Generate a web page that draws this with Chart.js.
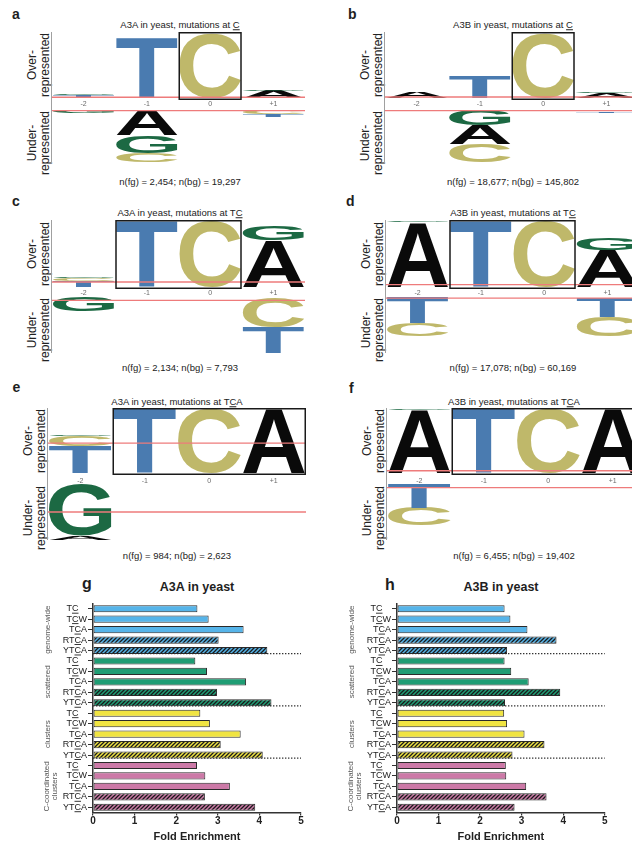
<!DOCTYPE html>
<html lang="en">
<head>
<meta charset="utf-8">
<title>APOBEC3A and APOBEC3B mutation context in yeast</title>
<script src="https://cdn.jsdelivr.net/npm/chart.js@4.4.1/dist/chart.umd.min.js"></script>
<style>
  html, body { margin: 0; padding: 0; background: #fff; }
  body { width: 632px; height: 846px; position: relative; overflow: hidden;
         font-family: "Liberation Sans", Arial, Helvetica, sans-serif; color: #1e1e1e; }
  canvas { position: absolute; }
  .txt { position: absolute; white-space: nowrap; line-height: 1; }
  .mid { transform: translate(-50%, -50%); }
  .tag { font-weight: bold; transform: translate(0, -50%); }
  .rot { position: absolute; transform: translate(-50%, -50%) rotate(-90deg); text-align: center;
         font-size: 12px; line-height: 13px; white-space: nowrap; color: #222; }
  u { text-decoration-thickness: 1px; text-underline-offset: 1px; }
</style>
</head>
<body>
<script>
const FONT = '"Liberation Sans", Arial, Helvetica, sans-serif';

// ---------- sequence logos ----------
const POSITIONS = ['-2', '-1', '0', '+1'];
const BASE_COLORS = { A: '#0a0a0a', C: '#bfb86a', G: '#1c6943', T: '#4a7bb0' };

// Each position lists [base, height] from the baseline outward; heights are a fraction of the panel height.
const a_over  = [[['T', 0.045], ['G', 0.015]], [['T', 0.91]], [['C', 0.985]], [['A', 0.11], ['G', 0.02]]];
const a_under = [[['G', 0.065]], [['A', 0.48], ['G', 0.33], ['C', 0.17]], [], [['C', 0.075], ['T', 0.055]]];
const b_over  = [[['A', 0.09]], [['T', 0.34]], [['C', 0.985]], [['A', 0.075], ['G', 0.02]]];
const b_under = [[['C', 0.02]], [['G', 0.29], ['A', 0.355], ['C', 0.34]], [], [['C', 0.025], ['T', 0.03]]];
const c_over  = [[['T', 0.09], ['C', 0.045], ['G', 0.015]], [['T', 0.985]], [['C', 0.985]], [['A', 0.70], ['G', 0.21]]];
const c_under = [[['G', 0.245]], [], [], [['C', 0.545], ['T', 0.455]]];
const d_over  = [[['A', 0.965], ['G', 0.02]], [['T', 0.985]], [['C', 0.985]], [['A', 0.55], ['G', 0.165]]];
const d_under = [[['T', 0.46], ['C', 0.235]], [], [], [['T', 0.355], ['C', 0.35]]];
const e_over  = [[['T', 0.415], ['C', 0.155], ['G', 0.015]], [['T', 0.985]], [['C', 0.985]], [['A', 0.985]]];
const e_under = [[['G', 0.925], ['A', 0.075]], [], [], []];
const f_over  = [[['A', 0.965], ['G', 0.02]], [['T', 0.985]], [['C', 0.985]], [['A', 0.985]]];
const f_under = [[['T', 0.425], ['C', 0.32]], [], [], []];

// Significance cut-offs drawn in red: [over-represented, under-represented]
const a_cut = [0.011, 0.011];
const b_cut = [0.015, 0.01];
const c_cut = [0.075, 0.06];
const d_cut = [0.035, 0.02];
const e_cut = [0.46, 0.5];
const f_cut = [0.035, 0.064];

// ---------- fold enrichment bars ----------
const MOTIFS = ['TC', 'TCW', 'TCA', 'RTCA', 'YTCA'];
const GROUPS = ['genome-wide', 'scattered', 'clusters', 'C-coordinated\nclusters'];
const GROUP_COLORS = ['#56b4e9', '#1f9d74', '#f0e442', '#cc79a7'];
const X_TICKS = [0, 1, 2, 3, 4, 5];

const a3a_genome    = [2.51, 2.78, 3.62, 3.02, 4.19];
const a3a_scattered = [2.46, 2.74, 3.68, 2.98, 4.29];
const a3a_clusters  = [2.58, 2.81, 3.55, 3.07, 4.08];
const a3a_coord     = [2.50, 2.70, 3.29, 2.69, 3.90];
const a3b_genome    = [2.59, 2.73, 3.14, 3.84, 2.65];
const a3b_scattered = [2.59, 2.75, 3.17, 3.93, 2.60];
const a3b_clusters  = [2.58, 2.65, 3.07, 3.55, 2.78];
const a3b_coord     = [2.62, 2.63, 3.11, 3.60, 2.83];

// ---------- layout ----------
const PAD = 3;
const ROWS = [
  { overTop: 32,  base: 98,  underTop: 110, underBottom: 175, titleY: 25,  footY: 182, tickPad: 2 },
  { overTop: 220, base: 287, underTop: 297, underBottom: 363, titleY: 213, footY: 368, tickPad: 2 },
  { overTop: 408, base: 473, underTop: 484, underBottom: 551, titleY: 402, footY: 556, tickPad: 4 }
];
const LOGOS = [
  { tag: 'a', tagX: 12,  tagY: 13.5, left: 52,  colW: 63.25, row: 0, over: a_over, under: a_under, cut: a_cut, box: [2, 2], cx: 180,
    title: 'A3A in yeast, mutations at <u>C</u>', foot: 'n(fg) = 2,454; n(bg) = 19,297' },
  { tag: 'b', tagX: 348, tagY: 13.5, left: 385, colW: 63.25, row: 0, over: b_over, under: b_under, cut: b_cut, box: [2, 2], cx: 513,
    title: 'A3B in yeast, mutations at <u>C</u>', foot: 'n(fg) = 18,677; n(bg) = 145,802' },
  { tag: 'c', tagX: 12,  tagY: 200.5, left: 52, colW: 63.25, row: 1, over: c_over, under: c_under, cut: c_cut, box: [1, 2], cx: 180,
    title: 'A3A in yeast, mutations at T<u>C</u>', foot: 'n(fg) = 2,134; n(bg) = 7,793' },
  { tag: 'd', tagX: 346, tagY: 201, left: 386, colW: 63.25, row: 1, over: d_over, under: d_under, cut: d_cut, box: [1, 2], cx: 513,
    title: 'A3B in yeast, mutations at T<u>C</u>', foot: 'n(fg) = 17,078; n(bg) = 60,169' },
  { tag: 'e', tagX: 12.5, tagY: 387, left: 48, colW: 64.5, row: 2, over: e_over, under: e_under, cut: e_cut, box: [1, 3], cx: 177,
    title: 'A3A in yeast, mutations at T<u>C</u>A', foot: 'n(fg) = 984; n(bg) = 2,623' },
  { tag: 'f', tagX: 349, tagY: 388, left: 387, colW: 64.5, row: 2, over: f_over, under: f_under, cut: f_cut, box: [1, 3], cx: 514,
    title: 'A3B in yeast, mutations at T<u>C</u>A', foot: 'n(fg) = 6,455; n(bg) = 19,402' }
];

function addText(html, x, y, cls, size, extra) {
  const d = document.createElement('div');
  d.className = 'txt ' + cls;
  d.innerHTML = html;
  d.style.left = x + 'px';
  d.style.top = y + 'px';
  d.style.fontSize = size + 'px';
  if (extra) Object.assign(d.style, extra);
  document.body.appendChild(d);
  return d;
}
function addRotated(l1, l2, x, y) {
  const d = document.createElement('div');
  d.className = 'rot';
  d.innerHTML = l1 + '<br>' + l2;
  d.style.left = x + 'px';
  d.style.top = y + 'px';
  document.body.appendChild(d);
}
function addCanvas(x, y, w, h) {
  const c = document.createElement('canvas');
  c.width = w; c.height = h;
  c.style.left = x + 'px'; c.style.top = y + 'px';
  document.body.appendChild(c);
  return c;
}

// Letter glyph stretched to fill a bar rectangle
function drawGlyph(ctx, ch, color, x, y, w, h) {
  if (h < 0.4 || w <= 0) return;
  ctx.save();
  ctx.font = `bold 200px ${FONT}`;
  ctx.textAlign = 'left';
  ctx.textBaseline = 'alphabetic';
  const m = ctx.measureText(ch);
  const gw = m.actualBoundingBoxLeft + m.actualBoundingBoxRight;
  const gh = m.actualBoundingBoxAscent + m.actualBoundingBoxDescent;
  ctx.translate(x, y);
  ctx.scale(w / gw, h / gh);
  ctx.fillStyle = color;
  ctx.fillText(ch, m.actualBoundingBoxLeft, m.actualBoundingBoxAscent);
  ctx.restore();
}

const logoPlugin = {
  id: 'logo',
  afterDatasetsDraw(chart, args, opts) {
    const { ctx, chartArea: ca } = chart;
    ctx.save();
    ctx.beginPath();
    ctx.rect(ca.left, ca.top, ca.right - ca.left, ca.bottom - ca.top);
    ctx.clip();
    chart.data.datasets.forEach((ds, di) => {
      chart.getDatasetMeta(di).data.forEach((bar, i) => {
        if (!ds.data[i]) return;
        const { x, y, base, width } = bar.getProps(['x', 'y', 'base', 'width'], true);
        drawGlyph(ctx, ds.label, BASE_COLORS[ds.label], x - width / 2, Math.min(y, base), width, Math.abs(base - y));
      });
    });
    ctx.restore();

    const ys = chart.scales.y, xs = chart.scales.x;
    ctx.save();
    const ty = ys.getPixelForValue(opts.cut);
    ctx.strokeStyle = '#ee7b7b';
    ctx.lineWidth = 1.3;
    ctx.beginPath(); ctx.moveTo(ca.left, ty); ctx.lineTo(ca.right, ty); ctx.stroke();

    if (opts.box) {
      const half = (xs.getPixelForTick(1) - xs.getPixelForTick(0)) / 2;
      const x0 = xs.getPixelForTick(opts.box[0]) - half;
      const x1 = xs.getPixelForTick(opts.box[1]) + half;
      ctx.strokeStyle = '#1a1a1a';
      ctx.lineWidth = 1.5;
      ctx.strokeRect(x0 + 0.75, ca.top + 0.75, x1 - x0 - 1.5, ca.bottom - ca.top + 0.5);
    }
    ctx.strokeStyle = '#a0a0a0';
    ctx.lineWidth = 1;
    const ax = ca.left - 0.5;
    ctx.beginPath();
    ctx.moveTo(ax, opts.over ? ca.top : 0);
    ctx.lineTo(ax, opts.over ? chart.height : ca.bottom);
    ctx.stroke();
    ctx.restore();
  }
};

function stackFor(cols, letter) {
  return cols.map(stack => {
    let acc = 0, out = null;
    stack.forEach(([l, h]) => { if (l === letter) out = [acc, acc + h]; acc += h; });
    return out;
  });
}

function logoChart(p, isOver) {
  const R = ROWS[p.row];
  const top = isOver ? R.overTop : R.underTop;
  const h = isOver ? R.underTop - R.overTop : R.underBottom - R.underTop;
  const cols = isOver ? p.over : p.under;
  const canvas = addCanvas(p.left - PAD, top, Math.round(PAD + 4 * p.colW), h);
  return new Chart(canvas, {
    type: 'bar',
    data: {
      labels: POSITIONS,
      datasets: ['A', 'C', 'G', 'T'].map(L => ({
        label: L, data: stackFor(cols, L),
        backgroundColor: 'rgba(0,0,0,0)', borderWidth: 0,
        grouped: false, barPercentage: 0.97, categoryPercentage: 1
      }))
    },
    options: {
      responsive: false, animation: false, events: [], devicePixelRatio: 1,
      layout: { padding: { left: PAD, right: 0, top: 0, bottom: 0 } },
      plugins: {
        legend: { display: false }, tooltip: { enabled: false },
        logo: { over: isOver, cut: p.cut[isOver ? 0 : 1], box: isOver ? p.box : null }
      },
      scales: {
        x: {
          display: isOver,
          grid: { display: false, drawTicks: false }, border: { display: false },
          ticks: { color: '#6a6a6a', font: { family: FONT, size: 7 }, padding: R.tickPad, maxRotation: 0 },
          afterFit: s => { s.height = R.underTop - R.base; }
        },
        y: { display: false, min: 0, max: 1, reverse: !isOver }
      }
    },
    plugins: [logoPlugin]
  });
}

LOGOS.forEach(p => {
  const R = ROWS[p.row];
  addText(p.tag, p.tagX, p.tagY, 'tag', 14);
  addText(p.title, p.cx, R.titleY, 'mid', 9.5, { color: '#222' });
  addText(p.foot, p.cx, R.footY, 'mid', 9.5, { color: '#222' });
  addRotated('Over-', 'represented', p.left - 13.5, (R.overTop + R.base) / 2);
  addRotated('Under-', 'represented', p.left - 13.5, (R.underTop + R.underBottom) / 2);
  logoChart(p, true);
  logoChart(p, false);
});

// ---------- bar charts ----------
function hatch(color) {
  const c = document.createElement('canvas');
  c.width = 4; c.height = 4;
  const x = c.getContext('2d');
  x.fillStyle = color;
  x.fillRect(0, 0, 4, 4);
  x.strokeStyle = '#1a1a1a';
  x.lineWidth = 1.3;
  x.beginPath();
  x.moveTo(-1, 5); x.lineTo(5, -1);
  x.moveTo(-1, 1); x.lineTo(1, -1);
  x.moveTo(3, 5); x.lineTo(5, 3);
  x.stroke();
  return x.createPattern(c, 'repeat');
}

const motifPlugin = {
  id: 'motifs',
  beforeDatasetsDraw(chart) {
    const { ctx, chartArea: ca } = chart;
    const bars = chart.getDatasetMeta(0).data;
    ctx.save();
    ctx.strokeStyle = '#333';
    ctx.lineWidth = 1.3;
    ctx.setLineDash([1.4, 1.6]);
    for (let g = 1; g < GROUPS.length; g++) {
      const bar = bars[g * MOTIFS.length - 1];
      const y = bar.y + bar.height / 2 - 0.5;
      ctx.beginPath(); ctx.moveTo(ca.left, y); ctx.lineTo(ca.right, y); ctx.stroke();
    }
    ctx.restore();
  },
  afterDraw(chart) {
    const { ctx, chartArea: ca } = chart;
    const ys = chart.scales.y;
    ctx.save();
    ctx.font = `9px ${FONT}`;
    ctx.fillStyle = '#222';
    ctx.textBaseline = 'middle';
    ctx.textAlign = 'left';
    const padW = ctx.measureText('W').width;
    chart.data.labels.forEach((lab, i) => {
      const y = ys.getPixelForTick(i);
      const right = ca.left - 6 - (lab.length === 2 ? padW : 0);
      const x0 = right - ctx.measureText(lab).width;
      ctx.fillText(lab, x0, y);
      // the mutated C is underlined
      const ci = lab.indexOf('C');
      const ux = x0 + ctx.measureText(lab.slice(0, ci)).width;
      ctx.fillRect(ux, y + 4, ctx.measureText('C').width, 0.9);
    });
    ctx.font = `8px ${FONT}`;
    ctx.fillStyle = '#555';
    ctx.textAlign = 'center';
    GROUPS.forEach((g, k) => {
      const yc = (ys.getPixelForTick(k * MOTIFS.length) + ys.getPixelForTick(k * MOTIFS.length + MOTIFS.length - 1)) / 2;
      const lines = g.split('\n');
      lines.forEach((line, j) => {
        const xc = lines.length === 1 ? ca.left - 45 : ca.left - 46 + j * 8;
        ctx.save();
        ctx.translate(xc, yc);
        ctx.rotate(-Math.PI / 2);
        ctx.fillText(line, 0, 0);
        ctx.restore();
      });
    });
    ctx.restore();
  }
};

function barChart(canvasLeft, areaLeft, areaRight, groupsData) {
  const top = 590, height = 256, width = 316;
  const canvas = addCanvas(canvasLeft, top, width, height);
  const values = groupsData.flat();
  const labels = GROUPS.flatMap(() => MOTIFS);
  const colors = values.map((v, i) => {
    const col = GROUP_COLORS[Math.floor(i / MOTIFS.length)];
    return (i % MOTIFS.length) >= 3 ? hatch(col) : col;
  });
  return new Chart(canvas, {
    type: 'bar',
    data: {
      labels,
      datasets: [{
        data: values, backgroundColor: colors, borderColor: '#2a2a2a', borderWidth: 1,
        borderSkipped: false, barPercentage: 0.68, categoryPercentage: 1
      }]
    },
    options: {
      indexAxis: 'y',
      responsive: false, animation: false, events: [], devicePixelRatio: 1,
      layout: { padding: { left: 0, right: width - (areaRight - canvasLeft), top: 13.5, bottom: 0 } },
      plugins: { legend: { display: false }, tooltip: { enabled: false } },
      scales: {
        x: {
          type: 'linear', min: X_TICKS[0], max: X_TICKS[X_TICKS.length - 1],
          afterBuildTicks: s => { s.ticks = X_TICKS.map(v => ({ value: v })); },
          grid: { drawOnChartArea: false, tickLength: 3, color: '#333', lineWidth: 1.2 },
          border: { color: '#333', width: 1.5 },
          ticks: { color: '#222', font: { family: FONT, size: 10, weight: 'bold' }, padding: 0 },
          title: { display: true, text: 'Fold Enrichment', color: '#222',
                   font: { family: FONT, size: 11, weight: 'bold' }, padding: { top: 0, bottom: 2.4 } },
          afterFit: s => { s.height = height - (812.5 - top); }
        },
        y: {
          grid: { drawOnChartArea: false, offset: false, tickLength: 5, color: '#333', lineWidth: 1 },
          border: { color: '#333', width: 1.5 },
          ticks: { display: false },
          afterFit: s => { s.width = areaLeft - canvasLeft; }
        }
      }
    },
    plugins: [motifPlugin]
  });
}

addText('g', 82, 584.3, 'tag', 16);
addText('h', 385, 585.3, 'tag', 16);
addText('A3A in yeast', 197, 586.5, 'mid', 12.5, { fontWeight: 'bold' });
addText('A3B in yeast', 501, 586.5, 'mid', 12.5, { fontWeight: 'bold' });

barChart(0, 93, 301, [a3a_genome, a3a_scattered, a3a_clusters, a3a_coord]);
barChart(316, 397, 604.7, [a3b_genome, a3b_scattered, a3b_clusters, a3b_coord]);
</script>
</body>
</html>
